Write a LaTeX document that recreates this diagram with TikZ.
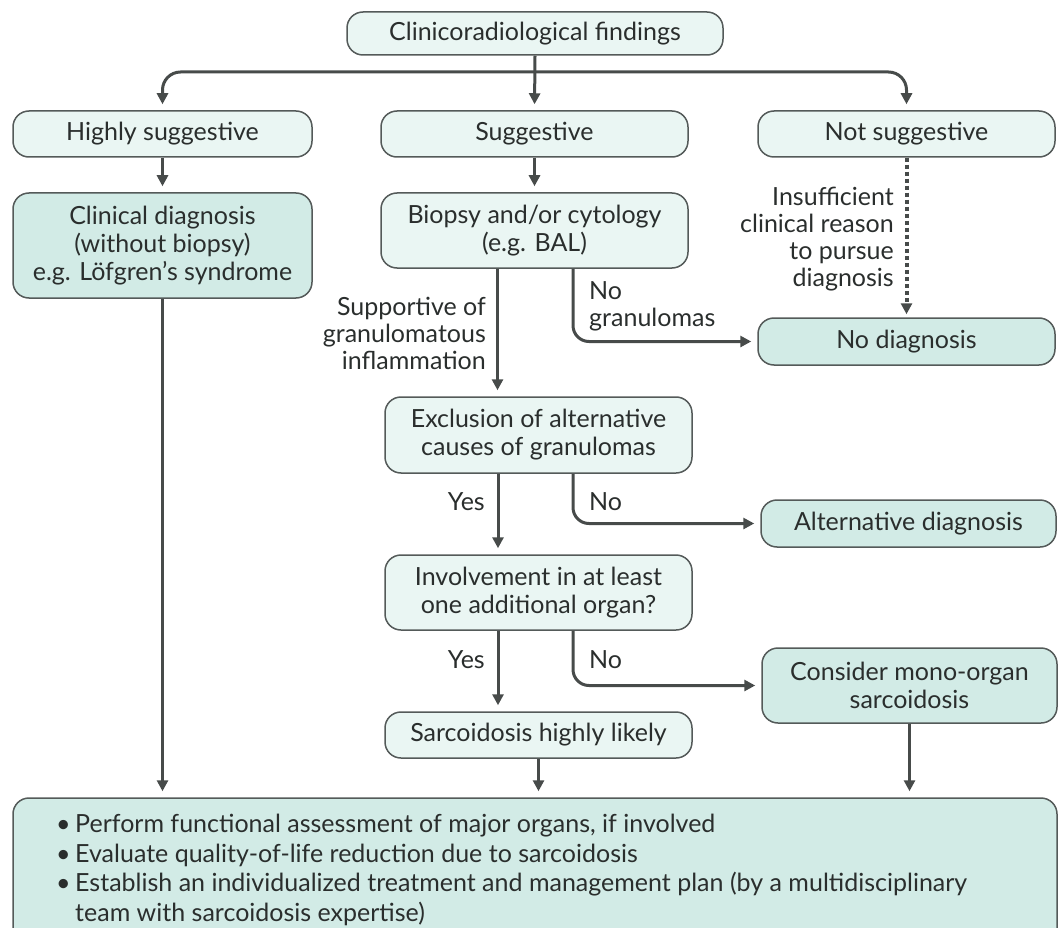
\documentclass[tikz,border=0pt]{standalone}
\usepackage{fontspec}
\setmainfont{Lato}
\usetikzlibrary{arrows.meta}

\definecolor{boxline}{HTML}{545A59}
\definecolor{lightfill}{HTML}{EAF6F3}
\definecolor{darkfill}{HTML}{D2EBE6}
\definecolor{arrowgray}{HTML}{474B4A}
\definecolor{txt}{HTML}{2A2E2D}

\tikzset{
  lbox/.style={draw=boxline, line width=1.5pt, fill=lightfill, rounded corners=16pt,
    align=center, text=txt, inner sep=0pt},
  dbox/.style={lbox, fill=darkfill},
  arr/.style={draw=arrowgray, line width=3pt, -{Triangle[length=11pt,width=11pt]},
    shorten >=6pt},
  lbl/.style={text=txt, align=right, anchor=east, inner sep=0pt},
  lblr/.style={lbl, align=left, anchor=west},
}
\newcommand{\dotitem}{\makebox[19pt][l]{\textbullet}}

\begin{document}
\begin{tikzpicture}[x=1pt,y=-1pt,font=\fontsize{25}{28}\selectfont]
\useasboundingbox (0,0) rectangle (1060,928);
% boxes
\node[lbox, minimum width=376pt, minimum height=43pt] (top) at (535,33.5) {Clinicoradiological findings};
\node[lbox, minimum width=299pt, minimum height=46pt] (highly) at (162.5,134) {Highly suggestive};
\node[lbox, minimum width=307pt, minimum height=46pt] (sugg) at (534.5,134) {Suggestive};
\node[lbox, minimum width=297pt, minimum height=46pt] (notsugg) at (906.5,134) {Not suggestive};
\node[dbox, minimum width=299pt, minimum height=105pt] (clin) at (162.5,245.5) {Clinical diagnosis\\(without biopsy)\\e.g. Löfgren’s syndrome};
\node[lbox, minimum width=307pt, minimum height=75pt] (biopsy) at (534.5,230.5) {Biopsy and/or cytology\\(e.g. BAL)};
\node[dbox, minimum width=297pt, minimum height=47pt] (nodiag) at (906.5,341.5) {No diagnosis};
\node[lbox, minimum width=307pt, minimum height=76pt] (excl) at (538.5,435) {Exclusion of alternative\\causes of granulomas};
\node[dbox, minimum width=295pt, minimum height=47pt] (alt) at (908.5,523.5) {Alternative diagnosis};
\node[lbox, minimum width=307pt, minimum height=75pt] (invol) at (538.5,592.5) {Involvement in at least\\one additional organ?};
\node[dbox, minimum width=295pt, minimum height=75pt] (consider) at (909.5,685.5) {Consider mono-organ\\sarcoidosis};
\node[lbox, minimum width=307pt, minimum height=46pt] (sarc) at (538.5,735) {Sarcoidosis highly likely};
\begin{scope}
\clip (0,0) rectangle (1060,928);
\node[dbox, minimum width=1044pt, minimum height=147pt] (final) at (535,871.5) {};
\end{scope}
\node[lblr, font=\fontsize{25}{29.5}\selectfont] (tasks) at (56,870) {\dotitem Perform functional assessment of major organs, if involved\\
  \dotitem Evaluate quality-of-life reduction due to sarcoidosis\\
  \dotitem Establish an individualized treatment and management plan (by a multidisciplinary\\
  \hspace*{19pt}team with sarcoidosis expertise)};
% labels
\node[lbl, font=\fontsize{25}{27}\selectfont] (reason) at (894,239) {Insufficient\\clinical reason\\to pursue\\diagnosis};
\node[lbl, font=\fontsize{25}{27}\selectfont] (support) at (486,333) {Supportive of\\granulomatous\\inflammation};
\node[lblr, font=\fontsize{25}{27}\selectfont] (nogran) at (589,306) {No\\granulomas};
\node[lbl] (yesa) at (485,502) {Yes};
\node[lblr] (noa) at (589,502) {No};
\node[lbl] (yesb) at (485,660) {Yes};
\node[lblr] (nob) at (589,660) {No};
% arrows
\coordinate (split) at (535,72);
\draw[arr] (top.south) -- (sugg.north);
\draw[arr, rounded corners=18pt] (split) -| (highly.north);
\draw[arr, rounded corners=18pt] (split) -| (notsugg.north);
\draw[arr] (highly.south) -- (clin.north);
\draw[arr] (sugg.south) -- (biopsy.north);
\draw[arr, dash pattern=on 4pt off 3pt, line width=4pt, shorten >=3pt] (notsugg.south) -- (nodiag.north);
\draw[arr] ([xshift=-37pt]biopsy.south) -- ([xshift=-37pt]biopsy.south |- excl.north);
\draw[arr, rounded corners=16pt] ([xshift=38.5pt]biopsy.south) |- (nodiag.west);
\draw[arr] ([xshift=-40.5pt]excl.south) -- ([xshift=-40.5pt]excl.south |- invol.north);
\draw[arr, rounded corners=16pt] ([xshift=34.5pt]excl.south) |- (alt.west);
\draw[arr] ([xshift=-40.5pt]invol.south) -- ([xshift=-40.5pt]invol.south |- sarc.north);
\draw[arr, rounded corners=16pt] ([xshift=34.5pt]invol.south) |- (consider.west);
\draw[arr] (clin.south) -- (clin.south |- final.north);
\draw[arr] (sarc.south) -- (sarc.south |- final.north);
\draw[arr] (consider.south) -- (consider.south |- final.north);
\end{tikzpicture}
\end{document}
